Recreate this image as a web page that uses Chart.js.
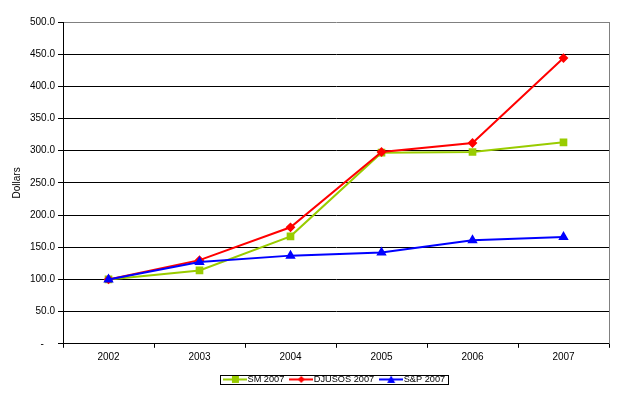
<!DOCTYPE html>
<html>
<head>
<meta charset="utf-8">
<script src="https://cdn.jsdelivr.net/npm/chart.js@4/dist/chart.umd.min.js"></script>
<style>
  html, body { margin: 0; padding: 0; background: #fff; }
  #wrap { width: 621px; height: 394px; }
</style>
</head>
<body>
<div id="wrap"><canvas id="chart" width="621" height="394"></canvas></div>
<script>
// ==========================
//  DATOS
// ==========================
const years = ['2002', '2003', '2004', '2005', '2006', '2007'];
const sm2007 = [100, 114, 167, 297, 298, 313];
const djusos2007 = [100, 130, 181, 298, 312, 444];
const sp2007 = [100, 127, 137, 142, 161, 166];

const GREEN = '#99CC00';
const RED = '#FF0000';
const BLUE = '#0000FF';

Chart.defaults.font.family = '"Liberation Sans", Arial, sans-serif';
Chart.defaults.font.size = 10;
Chart.defaults.color = '#000';

// muestra de leyenda: linea + marcador
function legendSample(color, style) {
  const c = document.createElement('canvas');
  c.width = 24; c.height = 9;
  const g = c.getContext('2d');
  g.strokeStyle = color; g.fillStyle = color; g.lineWidth = 2;
  g.beginPath(); g.moveTo(0, 4.5); g.lineTo(24, 4.5); g.stroke();
  g.beginPath();
  if (style === 'rect') g.rect(9, 1, 7, 7);
  else if (style === 'rectRot') { g.moveTo(12, 1); g.lineTo(15.5, 4.5); g.lineTo(12, 8); g.lineTo(8.5, 4.5); }
  else { g.moveTo(12, 0.5); g.lineTo(16, 8); g.lineTo(8, 8); }
  g.closePath(); g.fill();
  return c;
}

// leyenda centrada sobre el area del grafico, marco derecho gris y caja de la leyenda
const framePlugin = {
  id: 'frame',
  afterLayout(chart) {
    const a = chart.chartArea, lg = chart.legend;
    const dx = (a.left + a.right) / 2 - (lg.left + lg.right) / 2;
    lg.left += dx; lg.right += dx;
  },
  afterDraw(chart) {
    const { ctx, chartArea: a } = chart;
    ctx.save();
    ctx.lineWidth = 1;
    ctx.strokeStyle = '#808080';
    ctx.beginPath();
    ctx.moveTo(Math.round(a.right) + 0.5, a.top);
    ctx.lineTo(Math.round(a.right) + 0.5, a.bottom);
    ctx.stroke();
    const boxes = chart.legend.legendHitBoxes;
    if (boxes && boxes.length) {
      const l = Math.min(...boxes.map(b => b.left)) - 7;
      const r = Math.max(...boxes.map(b => b.left + b.width)) + 3;
      const t = Math.min(...boxes.map(b => b.top)) - 0;
      const btm = Math.max(...boxes.map(b => b.top + b.height)) + 0;
      ctx.strokeStyle = '#000';
      ctx.strokeRect(Math.round(l) + 0.5, Math.round(t) + 0.5, Math.round(r - l), Math.round(btm - t));
    }
    ctx.restore();
  }
};

const samples = [
  legendSample(GREEN, 'rect'),
  legendSample(RED, 'rectRot'),
  legendSample(BLUE, 'triangle')
];

new Chart(document.getElementById('chart'), {
  type: 'line',
  data: {
    labels: years,
    datasets: [
      { label: 'SM 2007', data: sm2007, borderColor: GREEN, backgroundColor: GREEN,
        borderWidth: 2, pointStyle: 'rect', pointRadius: 4, order: 3 },
      { label: 'DJUSOS 2007', data: djusos2007, borderColor: RED, backgroundColor: RED,
        borderWidth: 2, pointStyle: 'rectRot', pointRadius: 3.5, order: 2 },
      { label: 'S&P 2007', data: sp2007, borderColor: BLUE, backgroundColor: BLUE,
        borderWidth: 2, pointStyle: 'triangle', pointRadius: 4, order: 1 }
    ]
  },
  options: {
    responsive: false,
    animation: false,
    layout: { padding: { top: 22, right: 12, left: 0, bottom: 0 } },
    elements: { line: { tension: 0 }, point: { borderWidth: 0 } },
    plugins: {
      tooltip: { enabled: false },
      legend: {
        position: 'bottom',
        labels: {
          usePointStyle: true,
          pointStyleWidth: 16,
          padding: 9,
          font: { size: 9.2 },
          generateLabels(chart) {
            return chart.data.datasets.map((ds, i) => ({
              text: ds.label,
              pointStyle: samples[i],
              fillStyle: ds.borderColor,
              strokeStyle: ds.borderColor,
              lineWidth: 0,
              datasetIndex: i,
              hidden: false
            }));
          }
        }
      }
    },
    scales: {
      x: {
        offset: true,
        afterFit(scale) { scale.height = 22; },
        grid: { offset: true, drawOnChartArea: false, drawTicks: true, tickLength: 4, color: '#000' },
        border: { color: '#000', width: 1 },
        ticks: { padding: 3, maxRotation: 0 }
      },
      y: {
        min: 0, max: 500,
        afterFit(scale) { scale.width = 63; },
        grid: {
          color: ctx => (ctx.tick && ctx.tick.value === 500 ? '#808080' : '#000'),
          tickColor: '#000',
          tickLength: 5
        },
        border: { color: '#000', width: 1 },
        ticks: {
          stepSize: 50,
          padding: 3,
          callback: v => (v === 0 ? '-    ' : v.toFixed(1))
        },
        title: { display: true, text: 'Dollars', font: { size: 10 }, padding: { top: 11, bottom: 4 } }
      }
    }
  },
  plugins: [framePlugin]
});
</script>
</body>
</html>
